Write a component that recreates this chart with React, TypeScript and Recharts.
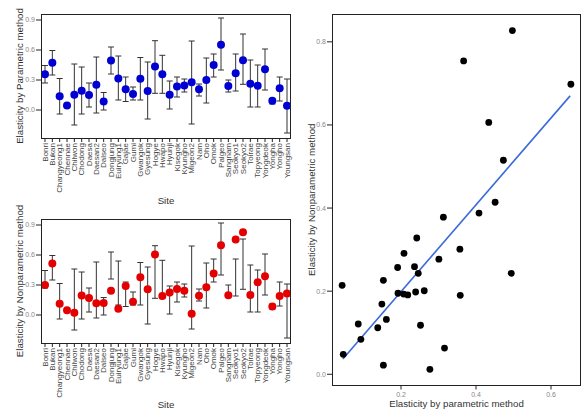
import React from 'react';
import {
  LineChart,
  Line,
  XAxis,
  YAxis,
  ErrorBar,
  ScatterChart,
  Scatter,
  ReferenceLine,
  Label,
} from 'recharts';

const sites = [
  'Bonri', 'Bukan', 'Changyeong1', 'Chennae', 'Chilwon', 'Chodong', 'Daesa', 'Daesan2', 'Dalseo',
  'Dongjung', 'Euiryung1', 'Gajae', 'Gumi', 'Gwangok', 'Gyesung', 'Hogye', 'Hwapo', 'Hyunji',
  'Kisegok', 'Kyungho', 'Migeon2', 'Nam', 'Oho', 'Omok', 'Palgeo', 'Sangnam', 'Seokyo1', 'Seokyo2',
  'Toirae', 'Topyeong', 'Yongdeok', 'Yongha', 'Yongho', 'Youngsan',
];

const paramValues = [
  0.357, 0.473, 0.138, 0.046, 0.153, 0.192, 0.149, 0.252, 0.086,
  0.494, 0.316, 0.208, 0.161, 0.313, 0.191, 0.434, 0.358, 0.153,
  0.236, 0.246, 0.277, 0.207, 0.301, 0.451, 0.653, 0.239, 0.367, 0.497,
  0.262, 0.242, 0.408, 0.093, 0.218, 0.043,
];

const nonparamValues = [
  0.301, 0.515, 0.112, 0.048, 0.022, 0.195, 0.169, 0.118, 0.121,
  0.243, 0.063, 0.291, 0.132, 0.378, 0.257, 0.606, 0.19, 0.226,
  0.259, 0.243, 0.012, 0.193, 0.277, 0.414, 0.698, 0.198, 0.754, 0.827,
  0.201, 0.328, 0.388, 0.084, 0.191, 0.214,
];

const ciLower = [
  0.27, 0.35, -0.04, 0.03, -0.15, -0.04, 0.03, -0.03, 0.0,
  0.36, 0.1, 0.085, 0.1, 0.1, -0.09, 0.167, 0.167, 0.01,
  0.13, 0.18, -0.14, 0.14, 0.07, 0.33, 0.4, 0.18, 0.19, 0.257,
  0.03, 0.03, 0.2, 0.06, 0.09, -0.23,
];

const ciUpper = [
  0.445, 0.595, 0.315, 0.06, 0.46, 0.43, 0.27, 0.53, 0.175,
  0.63, 0.54, 0.33, 0.23, 0.525, 0.48, 0.693, 0.547, 0.29,
  0.33, 0.31, 0.69, 0.26, 0.52, 0.56, 0.92, 0.3, 0.56, 0.76,
  0.5, 0.45, 0.61, 0.11, 0.33, 0.31,
];

const leftTicks = [0, 0.3, 0.6, 0.9];
const scatterXTicks = [0.2, 0.4, 0.6];
const scatterYTicks = [0, 0.2, 0.4, 0.6, 0.8];
const regX = [0.045, 0.651];
const regY = [0.037, 0.67];

const LEFT_DOMAIN: [number, number] = [-0.28, 0.96];
const SC_X_DOMAIN: [number, number] = [0.016, 0.68];
const SC_Y_DOMAIN: [number, number] = [-0.027, 0.867];

const FRAME = '#222';
const fmt = (v: number) => Number(v).toFixed(1);

// Site (category) tick: small tick mark + vertical label
const SiteTick = (props: any) => {
  const { x, y, payload } = props;
  return (
    <g>
      <line x1={x} x2={x} y1={y - 5} y2={y - 1} stroke={FRAME} strokeWidth={1} />
      <g transform={`translate(${x},${y})`}>
        <text transform="rotate(-90)" textAnchor="end" dy="0.35em" fontSize={8} fill="#444">
          {payload.value}
        </text>
      </g>
    </g>
  );
};

// numeric Y tick: tick mark to the left of the frame + grey label
const NumYTick = (props: any) => {
  const { x, y, payload } = props;
  return (
    <g>
      <line x1={x + 1} x2={x + 6} y1={y} y2={y} stroke={FRAME} strokeWidth={1} />
      <text x={x} y={y} dy="0.35em" textAnchor="end" fontSize={7} fill="#888">
        {fmt(payload.value)}
      </text>
    </g>
  );
};

// numeric X tick: tick mark below the frame + grey label
const NumXTick = (props: any) => {
  const { x, y, payload } = props;
  return (
    <g>
      <line x1={x} x2={x} y1={y - 6} y2={y - 2} stroke={FRAME} strokeWidth={1} />
      <text x={x} y={y} dy="0.75em" textAnchor="middle" fontSize={7} fill="#888">
        {fmt(payload.value)}
      </text>
    </g>
  );
};

// plot-area frame drawn as a plain box (decoration only)
const Frame = ({ left, top, width, height }: any) => (
  <div
    style={{
      position: 'absolute',
      left,
      top,
      width,
      height,
      boxSizing: 'border-box',
      border: `1.3px solid ${FRAME}`,
      pointerEvents: 'none',
    }}
  />
);

function SitePanel({ top, values, color, title, siteOffset }: any) {
  const data = sites.map((site, i) => ({
    site,
    v: values[i],
    err: [values[i] - ciLower[i], ciUpper[i] - values[i]],
  }));
  return (
    <div style={{ position: 'absolute', left: 0, top, width: 300, height: 206 }}>
      <LineChart width={300} height={206} data={data} margin={{ top: 14, right: 9, bottom: 0, left: 0 }}>
        <XAxis
          dataKey="site"
          type="category"
          scale="point"
          padding={{ left: 4, right: 4 }}
          interval={0}
          tick={<SiteTick />}
          tickSize={4}
          tickMargin={1}
          height={68}
          stroke={FRAME}
          axisLine={false}
          tickLine={false}
        >
          <Label value="Site" position="insideBottom" offset={siteOffset} fontSize={9.7} fill="#333" />
        </XAxis>
        <YAxis
          type="number"
          domain={LEFT_DOMAIN}
          allowDataOverflow
          ticks={leftTicks}
          width={41}
          tickSize={5}
          tickMargin={1}
          stroke={FRAME}
          axisLine={false}
          tickLine={false}
          tick={<NumYTick />}
        >
          <Label
            value={title}
            angle={-90}
            position="insideLeft"
            offset={20}
            style={{ textAnchor: 'middle' }}
            fontSize={9.7}
            fill="#333"
          />
        </YAxis>
        <Line
          dataKey="v"
          stroke="none"
          isAnimationActive={false}
          dot={{ r: 4, fill: color, stroke: 'none' }}
          activeDot={false}
        >
          <ErrorBar dataKey="err" width={3} stroke="#333" strokeWidth={1} direction="y" isAnimationActive={false} />
        </Line>
      </LineChart>
      <Frame left={41} top={14} width={250} height={124.6} />
    </div>
  );
}

function ScatterPanel() {
  const data = sites.map((site, i) => ({ site, x: paramValues[i], y: nonparamValues[i] }));
  return (
    <div style={{ position: 'absolute', left: 300, top: 0, width: 285, height: 417 }}>
      <ScatterChart width={285} height={417} margin={{ top: 14, right: 4, bottom: 0, left: 0 }}>
        <XAxis
          type="number"
          dataKey="x"
          domain={SC_X_DOMAIN}
          allowDataOverflow
          ticks={scatterXTicks}
          height={31.5}
          tickSize={4}
          tickMargin={2}
          stroke={FRAME}
          axisLine={false}
          tickLine={false}
          tick={<NumXTick />}
        >
          <Label value="Elasticity by parametric method" position="insideBottom" offset={10.5} fontSize={9.7} fill="#333" />
        </XAxis>
        <YAxis
          type="number"
          dataKey="y"
          domain={SC_Y_DOMAIN}
          allowDataOverflow
          ticks={scatterYTicks}
          width={32}
          tickSize={5}
          tickMargin={1}
          stroke={FRAME}
          axisLine={false}
          tickLine={false}
          tick={<NumYTick />}
        >
          <Label
            value="Elasticity by Nonparametric method"
            angle={-90}
            position="insideLeft"
            offset={11.7}
            style={{ textAnchor: 'middle' }}
            fontSize={9.7}
            fill="#333"
          />
        </YAxis>
        <ReferenceLine
          segment={[
            { x: regX[0], y: regY[0] },
            { x: regX[1], y: regY[1] },
          ]}
          stroke="#3a6ad8"
          strokeWidth={1.6}
        />
        <Scatter
          data={data}
          isAnimationActive={false}
          shape={(p: any) => <circle cx={p.cx} cy={p.cy} r={3.4} fill="#000" />}
        />
      </ScatterChart>
      <Frame left={32} top={14} width={249} height={371.8} />
    </div>
  );
}

export default function App() {
  return (
    <div
      style={{
        position: 'absolute',
        left: 0,
        top: 0,
        width: 585,
        height: 417,
        background: '#fff',
        fontFamily: "'Liberation Sans', Arial, sans-serif",
        overflow: 'hidden',
      }}
    >
      <SitePanel top={0} values={paramValues} color="#0000d2" title="Elasticity by Parametric method" siteOffset={2.5} />
      <SitePanel top={205} values={nonparamValues} color="#e40000" title="Elasticity by Nonparametric method" siteOffset={3.5} />
      <ScatterPanel />
    </div>
  );
}
